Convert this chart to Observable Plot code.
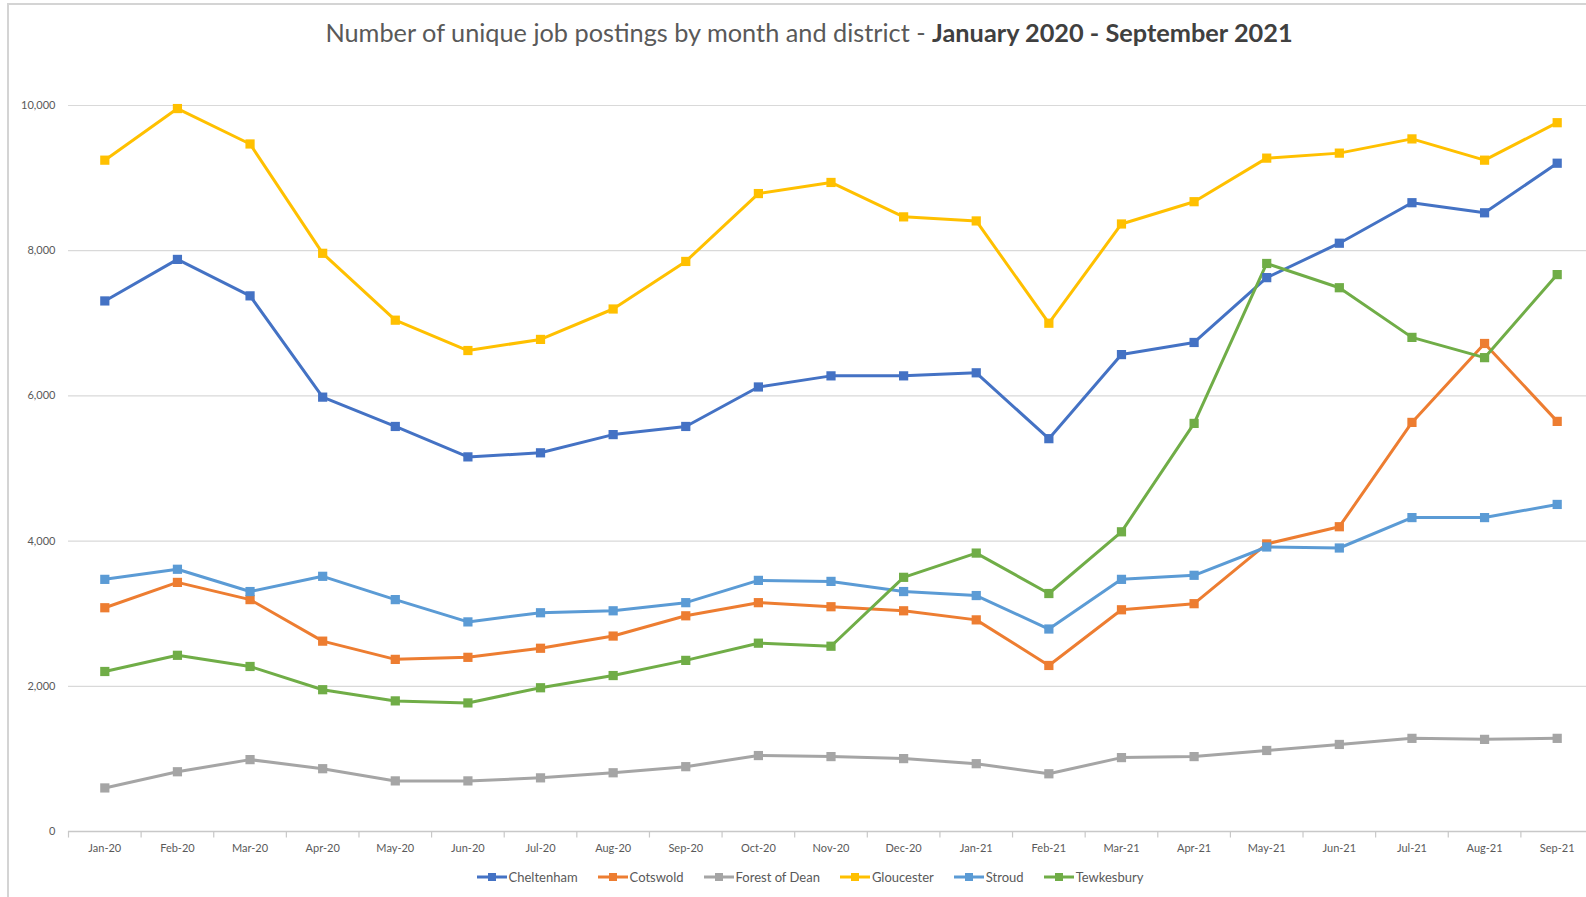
<!DOCTYPE html>
<html>
<head>
<meta charset="utf-8">
<script src="https://cdn.jsdelivr.net/npm/d3@7"></script>
<script src="https://cdn.jsdelivr.net/npm/@observablehq/plot@0.6"></script>
<style>
  html, body { margin: 0; padding: 0; background: #fff; overflow: hidden; width: 1586px; height: 897px; }
  #frame { position: absolute; left: 7px; top: 3px; width: 1600px; height: 910px; border: 2px solid #d4d4d4; box-sizing: border-box; }
  #title { position: absolute; left: 0; top: 17px; width: 1618px; text-align: center; font-family: Lato, "Open Sans", sans-serif; font-size: 25.3px; color: #595959; }
  #title b { font-weight: 700; color: #404040; }
  #chart { position: absolute; left: 0; top: 60px; width: 1600px; }
  #chart svg { max-width: none !important; }
  #legend { position: absolute; left: 0; top: 869px; width: 1620px; display: flex; justify-content: center; gap: 20px; font-family: Lato, "Open Sans", sans-serif; font-size: 13px; color: #595959; }
  #legend span { display: inline-flex; align-items: center; gap: 2px; }
</style>
</head>
<body>
<div id="frame"></div>
<div id="title">Number of unique job postings by month and district - <b>January 2020 - September 2021</b></div>
<div id="chart"></div>
<div id="legend"></div>
<script>
const months = ["Jan-20","Feb-20","Mar-20","Apr-20","May-20","Jun-20","Jul-20","Aug-20","Sep-20","Oct-20","Nov-20","Dec-20","Jan-21","Feb-21","Mar-21","Apr-21","May-21","Jun-21","Jul-21","Aug-21","Sep-21"];
const districts = ["Cheltenham","Cotswold","Forest of Dean","Gloucester","Stroud","Tewkesbury"];
const colors = ["#4472C4","#ED7D31","#A5A5A5","#FFC000","#5B9BD5","#70AD47"];
const yTicks = [0, 2000, 4000, 6000, 8000, 10000];

const cheltenham  = [7308,7880,7378,5983,5579,5160,5216,5467,5579,6123,6276,6276,6318,5411,6569,6736,7629,8103,8661,8522,9205];
const cotswold    = [3082,3431,3194,2622,2371,2399,2524,2692,2971,3152,3096,3040,2915,2287,3054,3138,3961,4198,5635,6722,5649];
const forestOfDean= [600,823,990,865,697,697,739,809,893,1046,1032,1004,934,795,1018,1032,1116,1199,1283,1269,1283];
const gloucester  = [9247,9958,9470,7964,7043,6625,6778,7197,7852,8787,8940,8466,8410,7001,8368,8675,9275,9344,9540,9247,9763];
const stroud      = [3473,3612,3305,3515,3194,2887,3013,3040,3152,3459,3445,3305,3250,2789,3473,3529,3919,3905,4324,4324,4505];
const tewkesbury  = [2204,2427,2273,1953,1799,1771,1980,2148,2357,2594,2552,3501,3835,3278,4128,5621,7824,7490,6806,6527,7671];

const seriesValues = [cheltenham, cotswold, forestOfDean, gloucester, stroud, tewkesbury];
const rows = [];
districts.forEach((d, i) => seriesValues[i].forEach((v, j) => rows.push({district: d, month: months[j], value: v})));

const font = "Lato, 'Open Sans', sans-serif";
const bw = (1593 - 68) / months.length;

const chart = Plot.plot({
  width: 1593,
  height: 802,
  marginLeft: 68,
  marginRight: 0,
  marginTop: 45,
  marginBottom: 31,
  style: { fontFamily: font, fontSize: "11px", color: "#595959", background: "transparent", maxWidth: "none" },
  x: { type: "band", domain: months, padding: 0, round: false, label: null },
  y: { domain: [0, 10000], label: null },
  color: { domain: districts, range: colors },
  marks: [
    Plot.ruleY(yTicks.filter(t => t > 0), { stroke: "#d9d9d9", strokeWidth: 1.2 }),
    Plot.ruleY([0], { stroke: "#c8c8c8", strokeWidth: 1.5 }),
    Plot.ruleX(months, { x: d => d, y1: 0, y2: -90, dx: -bw / 2, stroke: "#c8c8c8", strokeWidth: 1.2 }),
    Plot.axisY({ ticks: yTicks, tickFormat: d3.format(","), tickSize: 0, tickPadding: 13, fontSize: 11 }),
    Plot.axisX({ tickSize: 0, tickPadding: 13, fontSize: 11 }),
    Plot.line(rows, { x: "month", y: "value", z: "district", stroke: "district", strokeWidth: 3, curve: "linear" }),
    Plot.dot(rows, { x: "month", y: "value", fill: "district", symbol: "square", r: 5.2, stroke: "none" })
  ]
});
document.getElementById("chart").appendChild(chart);

const legend = document.getElementById("legend");
districts.forEach((d, i) => {
  const s = document.createElement("span");
  s.innerHTML = `<svg width="30" height="10"><line x1="0" y1="5" x2="30" y2="5" stroke="${colors[i]}" stroke-width="3"/><rect x="11" y="1" width="8" height="8" fill="${colors[i]}"/></svg>${d}`;
  legend.appendChild(s);
});
</script>
</body>
</html>
